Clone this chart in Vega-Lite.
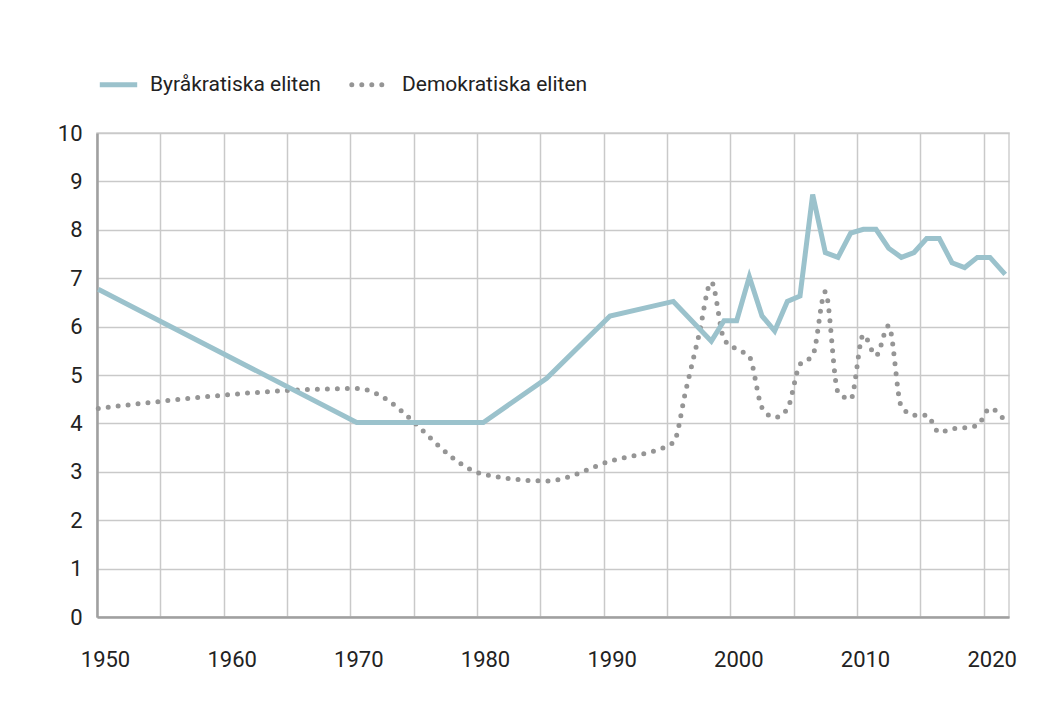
{
  "$schema": "https://vega.github.io/schema/vega-lite/v6.json",
  "autosize": "none",
  "width": 912,
  "height": 484,
  "padding": {"left": 97, "top": 133, "right": 31, "bottom": 106},
  "background": "white",
  "config": {
    "font": "Roboto",
    "view": {"stroke": "#d0d0d0", "strokeWidth": 1.5},
    "axis": {"labelFont": "Roboto", "labelColor": "#222222", "labelFontSize": 22, "gridColor": "#c9c9c9", "gridWidth": 1.5, "ticks": false, "domainColor": "#a0a0a0", "domainWidth": 2.5, "title": null}
  },
  "data": {"values": [
    {"year": 1950.1, "series": "Byråkratiska eliten", "value": 6.77},
    {"year": 1970.5, "series": "Byråkratiska eliten", "value": 4.02},
    {"year": 1980.5, "series": "Byråkratiska eliten", "value": 4.02},
    {"year": 1985.5, "series": "Byråkratiska eliten", "value": 4.93},
    {"year": 1990.5, "series": "Byråkratiska eliten", "value": 6.22},
    {"year": 1995.5, "series": "Byråkratiska eliten", "value": 6.52},
    {"year": 1998.5, "series": "Byråkratiska eliten", "value": 5.7},
    {"year": 1999.5, "series": "Byråkratiska eliten", "value": 6.12},
    {"year": 2000.5, "series": "Byråkratiska eliten", "value": 6.12},
    {"year": 2001.5, "series": "Byråkratiska eliten", "value": 7.03},
    {"year": 2002.5, "series": "Byråkratiska eliten", "value": 6.22},
    {"year": 2003.5, "series": "Byråkratiska eliten", "value": 5.91},
    {"year": 2004.5, "series": "Byråkratiska eliten", "value": 6.52},
    {"year": 2005.5, "series": "Byråkratiska eliten", "value": 6.63},
    {"year": 2006.5, "series": "Byråkratiska eliten", "value": 8.73},
    {"year": 2007.5, "series": "Byråkratiska eliten", "value": 7.53},
    {"year": 2008.5, "series": "Byråkratiska eliten", "value": 7.43},
    {"year": 2009.5, "series": "Byråkratiska eliten", "value": 7.93},
    {"year": 2010.5, "series": "Byråkratiska eliten", "value": 8.01},
    {"year": 2011.5, "series": "Byråkratiska eliten", "value": 8.01},
    {"year": 2012.5, "series": "Byråkratiska eliten", "value": 7.62},
    {"year": 2013.5, "series": "Byråkratiska eliten", "value": 7.43},
    {"year": 2014.5, "series": "Byråkratiska eliten", "value": 7.53},
    {"year": 2015.5, "series": "Byråkratiska eliten", "value": 7.82},
    {"year": 2016.5, "series": "Byråkratiska eliten", "value": 7.82},
    {"year": 2017.5, "series": "Byråkratiska eliten", "value": 7.32},
    {"year": 2018.5, "series": "Byråkratiska eliten", "value": 7.22},
    {"year": 2019.5, "series": "Byråkratiska eliten", "value": 7.43},
    {"year": 2020.5, "series": "Byråkratiska eliten", "value": 7.43},
    {"year": 2021.7, "series": "Byråkratiska eliten", "value": 7.08},
    {"year": 1950.1, "series": "Demokratiska eliten", "value": 4.31},
    {"year": 1970.5, "series": "Demokratiska eliten", "value": 4.72},
    {"year": 1980.5, "series": "Demokratiska eliten", "value": 2.95},
    {"year": 1985.5, "series": "Demokratiska eliten", "value": 2.81},
    {"year": 1990.5, "series": "Demokratiska eliten", "value": 3.22},
    {"year": 1995.5, "series": "Demokratiska eliten", "value": 3.6},
    {"year": 1996.5, "series": "Demokratiska eliten", "value": 4.7},
    {"year": 1997.5, "series": "Demokratiska eliten", "value": 5.8},
    {"year": 1998.5, "series": "Demokratiska eliten", "value": 6.92},
    {"year": 1999.5, "series": "Demokratiska eliten", "value": 5.74},
    {"year": 2000.5, "series": "Demokratiska eliten", "value": 5.53},
    {"year": 2001.5, "series": "Demokratiska eliten", "value": 5.38},
    {"year": 2002.5, "series": "Demokratiska eliten", "value": 4.33},
    {"year": 2003.5, "series": "Demokratiska eliten", "value": 4.12},
    {"year": 2004.5, "series": "Demokratiska eliten", "value": 4.3},
    {"year": 2005.5, "series": "Demokratiska eliten", "value": 5.22},
    {"year": 2006.5, "series": "Demokratiska eliten", "value": 5.4},
    {"year": 2007.5, "series": "Demokratiska eliten", "value": 6.72},
    {"year": 2008.5, "series": "Demokratiska eliten", "value": 4.65},
    {"year": 2009.5, "series": "Demokratiska eliten", "value": 4.5},
    {"year": 2010.5, "series": "Demokratiska eliten", "value": 5.83},
    {"year": 2011.5, "series": "Demokratiska eliten", "value": 5.4},
    {"year": 2012.5, "series": "Demokratiska eliten", "value": 6.02},
    {"year": 2013.5, "series": "Demokratiska eliten", "value": 4.35},
    {"year": 2014.5, "series": "Demokratiska eliten", "value": 4.17},
    {"year": 2015.5, "series": "Demokratiska eliten", "value": 4.17},
    {"year": 2016.5, "series": "Demokratiska eliten", "value": 3.81},
    {"year": 2017.5, "series": "Demokratiska eliten", "value": 3.89},
    {"year": 2018.5, "series": "Demokratiska eliten", "value": 3.91},
    {"year": 2019.5, "series": "Demokratiska eliten", "value": 3.96},
    {"year": 2020.5, "series": "Demokratiska eliten", "value": 4.31},
    {"year": 2021.7, "series": "Demokratiska eliten", "value": 4.05}
  ]},
  "layer": [
    {
      "transform": [{"filter": "datum.series === 'Demokratiska eliten'"}],
      "mark": {"type": "line", "interpolate": "monotone", "strokeWidth": 5, "strokeCap": "round", "strokeDash": [0, 10], "color": "#959595"},
      "encoding": {
        "x": {"field": "year", "type": "quantitative"},
        "y": {"field": "value", "type": "quantitative"}
      }
    },
    {
      "transform": [{"filter": "datum.series === 'Byråkratiska eliten'"}],
      "mark": {"type": "line", "strokeWidth": 5, "strokeJoin": "miter", "color": "#9bc2cc"},
      "encoding": {
        "x": {"field": "year", "type": "quantitative"},
        "y": {"field": "value", "type": "quantitative"}
      }
    },
    {
      "mark": {"type": "line", "opacity": 0},
      "encoding": {
        "x": {"field": "year", "type": "quantitative", "scale": {"domain": [1950, 2022], "nice": false, "zero": false},
          "axis": {"values": [1950, 1955, 1960, 1965, 1970, 1975, 1980, 1985, 1990, 1995, 2000, 2005, 2010, 2015, 2020], "format": "d", "labelExpr": "datum.value % 10 === 0 ? datum.label : ''", "labelPadding": 32, "labelOffset": 8, "labelFlush": false}},
        "y": {"field": "value", "type": "quantitative", "scale": {"domain": [0, 10], "nice": false},
          "axis": {"values": [0, 1, 2, 3, 4, 5, 6, 7, 8, 9, 10], "labelPadding": 15}},
        "strokeDash": {"field": "series", "type": "nominal",
          "scale": {"domain": ["Byråkratiska eliten", "Demokratiska eliten"], "range": [[1, 0], [0, 10]]},
          "legend": {"orient": "top", "direction": "horizontal", "title": null, "offset": 38, "labelFontSize": 21, "labelLimit": 0, "labelColor": "#222222", "labelFont": "Roboto", "symbolType": "stroke", "symbolSize": 1400, "symbolStrokeWidth": 5, "labelOffset": 10, "columnPadding": 20,
            "encode": {"symbols": {"update": {"opacity": {"value": 1}, "strokeCap": {"signal": "datum.value === 'Demokratiska eliten' ? 'round' : 'butt'"}}}}}
        },
        "color": {"field": "series", "type": "nominal",
          "scale": {"domain": ["Byråkratiska eliten", "Demokratiska eliten"], "range": ["#9bc2cc", "#959595"]},
          "legend": {"orient": "top", "direction": "horizontal", "title": null, "offset": 38, "labelFontSize": 21, "labelLimit": 0, "labelColor": "#222222", "labelFont": "Roboto", "symbolType": "stroke", "symbolSize": 1400, "symbolStrokeWidth": 5, "labelOffset": 10, "columnPadding": 20,
            "encode": {"symbols": {"update": {"opacity": {"value": 1}, "strokeCap": {"signal": "datum.value === 'Demokratiska eliten' ? 'round' : 'butt'"}}}}}
        }
      }
    }
  ]
}
